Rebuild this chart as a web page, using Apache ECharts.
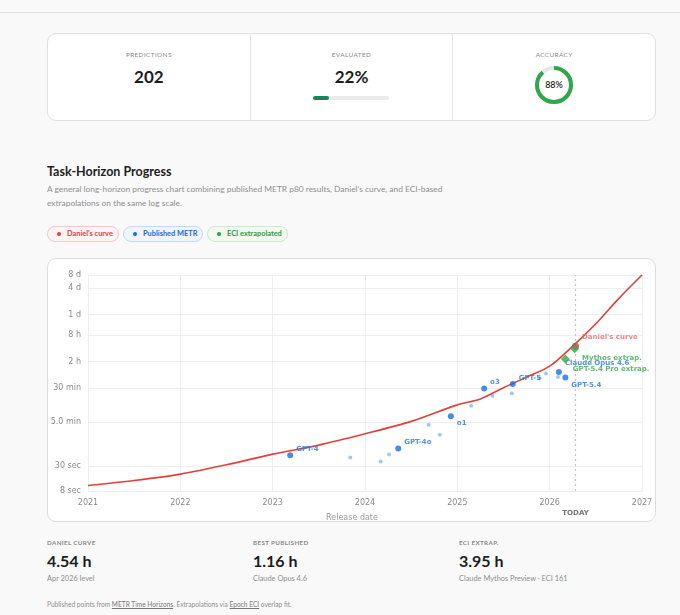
<!DOCTYPE html>
<html><head><meta charset="utf-8">
<script src="https://cdn.jsdelivr.net/npm/echarts@6/dist/echarts.min.js"></script>
<style>
html,body{margin:0;padding:0;}
body{width:680px;height:615px;background:#f9f9f9;font-family:Lato,"Noto Sans",sans-serif;position:relative;overflow:hidden;color:#222;}
.rule{position:absolute;left:0;top:12px;width:680px;height:1px;background:#e3e3e3;}
.stats{position:absolute;left:47px;top:33px;width:609px;height:88px;box-sizing:border-box;border:1px solid #e0e0e0;border-radius:9px;background:#fff;display:flex;}
.cell{flex:1;position:relative;text-align:center;}
.cell+.cell{border-left:1px solid #e6e6e6;}
.lbl{position:absolute;left:0;right:0;top:17px;font-size:6.4px;line-height:8px;letter-spacing:0.4px;color:#888;}
.big{position:absolute;left:0;right:0;top:32px;font-size:17px;font-weight:700;line-height:22px;color:#1d1d1d;}
.bar{position:absolute;left:62px;top:62px;width:76px;height:3.5px;border-radius:2px;background:#ebebeb;}
.bar i{position:absolute;left:0;top:0;height:100%;width:22%;border-radius:2px;background:#16875a;}
.donut{position:absolute;left:81px;top:31px;width:40px;height:40px;}
h2{position:absolute;left:47px;top:163px;margin:0;font-size:12.5px;font-weight:700;line-height:18px;color:#1d1d1d;}
.desc{position:absolute;left:47px;top:182px;width:420px;font-size:8.4px;line-height:14px;color:#8e8e8e;margin:0;}
.pill{position:absolute;top:226px;height:16px;box-sizing:border-box;border-radius:8px;font-size:7.4px;font-weight:700;line-height:14px;padding-left:19px;}
.pill:before{content:"";position:absolute;left:9px;top:5px;width:4px;height:4px;border-radius:50%;background:currentColor;}
.p1{left:47px;width:72px;color:#d9443f;background:#fff3f3;border:1px solid #f3c9c9;}
.p2{left:123px;width:80px;color:#2368cf;background:#eff5ff;border:1px solid #c6d9f6;}
.p3{left:207px;width:81px;color:#2f9a44;background:#f1f9f1;border:1px solid #cde8cf;}
.card{position:absolute;left:47px;top:258px;width:609px;height:264px;box-sizing:border-box;border:1px solid #dedede;border-radius:9px;background:#fff;}
#chart{position:absolute;left:0;top:0;width:607px;height:262px;}
.bs{position:absolute;top:538px;width:200px;}
.bs .l{font-size:6.2px;font-weight:700;letter-spacing:0.4px;color:#888;line-height:10px;}
.bs .v{font-size:16px;font-weight:700;color:#1d1d1d;line-height:20px;margin-top:3px;}
.bs .s{font-size:7.4px;color:#8e8e8e;line-height:10px;margin-top:3px;}
.foot{position:absolute;left:47px;top:599px;font-size:6.6px;color:#8e8e8e;line-height:10px;}
.foot u{text-decoration:underline;color:#777;}
</style></head>
<body>
<div class="rule"></div>
<div class="stats">
  <div class="cell"><div class="lbl">PREDICTIONS</div><div class="big">202</div></div>
  <div class="cell"><div class="lbl">EVALUATED</div><div class="big">22%</div><div class="bar"><i></i></div></div>
  <div class="cell"><div class="lbl">ACCURACY</div>
    <svg class="donut" viewBox="0 0 40 40">
      <circle cx="20" cy="20" r="17" fill="none" stroke="#e6e6e6" stroke-width="4"/>
      <circle cx="20" cy="20" r="17" fill="none" stroke="#2ea84a" stroke-width="4" stroke-dasharray="94.0 200" transform="rotate(-90 20 20)"/>
      <text x="20" y="23.2" text-anchor="middle" font-size="9" font-weight="600" fill="#2a2a2a" font-family="Lato,sans-serif">88%</text>
    </svg>
  </div>
</div>
<h2>Task-Horizon Progress</h2>
<p class="desc">A general long-horizon progress chart combining published METR p80 results, Daniel's curve, and ECI-based extrapolations on the same log scale.</p>
<div class="pill p1">Daniel's curve</div>
<div class="pill p2">Published METR</div>
<div class="pill p3">ECI extrapolated</div>
<div class="card"><div id="chart"></div></div>
<div class="bs" style="left:47px"><div class="l">DANIEL CURVE</div><div class="v">4.54 h</div><div class="s">Apr 2026 level</div></div>
<div class="bs" style="left:253px"><div class="l">BEST PUBLISHED</div><div class="v">1.16 h</div><div class="s">Claude Opus 4.6</div></div>
<div class="bs" style="left:459px"><div class="l">ECI EXTRAP.</div><div class="v">3.95 h</div><div class="s">Claude Mythos Preview · ECI 161</div></div>
<div class="foot">Published points from <u>METR Time Horizons</u>. Extrapolations via <u>Epoch ECI</u> overlap fit.</div>
<script>
// ---- data (x = release date as decimal year, y = p80 horizon in hours) ----
const danielYears = [2021.0, 2021.5, 2022.0, 2022.5, 2023.0, 2023.5, 2024.0, 2024.5, 2025.0, 2025.25, 2025.5, 2025.75, 2026.0, 2026.25, 2026.5, 2026.75, 2027.0];
const danielHours = [0.00297, 0.00386, 0.00541, 0.00881, 0.01545, 0.02483, 0.045, 0.0867, 0.2065, 0.283, 0.51, 0.891, 1.585, 4.54, 14.8, 56.2, 192];

const metrNames = ['GPT-4', 'GPT-4o', 'o1', 'o3', 'GPT-5', 'Claude Opus 4.6', 'GPT-5.4'];
const metrYears = [2023.19, 2024.36, 2024.93, 2025.29, 2025.60, 2026.10, 2026.17];
const metrHours = [0.01466, 0.0207, 0.114, 0.486, 0.622, 1.16, 0.87];

const otherYears = [2023.84, 2024.17, 2024.26, 2024.69, 2024.81, 2025.15, 2025.38, 2025.59, 2025.89, 2025.96, 2026.09];
const otherHours = [0.0129, 0.0105, 0.0151, 0.0725, 0.043, 0.196, 0.336, 0.382, 0.84, 1.07, 0.90];

const eciNames = ['Mythos extrap.', 'GPT-5.4 Pro extrap.'];
const eciYears = [2026.27, 2026.17];
const eciHours = [3.95, 2.3];

const danielMarkerYear = 2026.28;
const danielMarkerHours = 4.54;
const todayYear = 2026.28;

const yTickHours = [8/3600, 30/3600, 5/60, 0.5, 2, 8, 24, 96, 192];
const yTickLabels = ['8 sec', '30 sec', '5.0 min', '30 min', '2 h', '8 h', '1 d', '4 d', '8 d'];

// ---- presentation ----
const labelOffsets = {
  'GPT-4': [0, -6], 'GPT-4o': [0, -6], 'o1': [0, 7], 'o3': [0, -6], 'GPT-5': [0, -6],
  'Claude Opus 4.6': [0, -9], 'GPT-5.4': [0, 8],
  'Mythos extrap.': [0, 9], 'GPT-5.4 Pro extrap.': [0, 10]
};
const FONT = '"DejaVu Sans", sans-serif';
function zip(xs, ys) { return xs.map((x, i) => [x, ys[i]]); }
function named(names, xs, ys) {
  return names.map((n, i) => ({ name: n, value: [xs[i], ys[i]], label: { offset: labelOffsets[n] || [0, 0] } }));
}
function yLabel(v) {
  let best = 0, d = Infinity;
  yTickHours.forEach((t, i) => { const dd = Math.abs(Math.log(t) - Math.log(v)); if (dd < d) { d = dd; best = i; } });
  return yTickLabels[best];
}

const chart = echarts.init(document.getElementById('chart'), null, { renderer: 'canvas' });
chart.setOption({
  animation: false,
  backgroundColor: 'transparent',
  grid: { left: 40, right: 13, top: 16, bottom: 30, containLabel: false, outerBoundsMode: 'none' },
  xAxis: {
    type: 'value', min: 2021, max: 2027, interval: 1,
    name: 'Release date', nameLocation: 'middle', nameGap: 23,
    nameTextStyle: { color: '#9a9a9a', fontSize: 8, fontFamily: FONT, padding: [0, 26, 0, 0] },
    axisLine: { show: false }, axisTick: { show: false },
    axisLabel: { color: '#8a8a8a', fontSize: 8, fontFamily: FONT, margin: 8, hideOverlap: false, formatter: v => String(Math.round(v)) },
    splitLine: { show: true, lineStyle: { color: '#efefef', width: 1 } }
  },
  yAxis: {
    type: 'log', logBase: 10, min: yTickHours[0] * 0.9999, max: yTickHours[yTickHours.length - 1] * 1.0001,
    name: 'p80 horizon (hours, log)', nameLocation: 'middle', nameGap: 32, nameRotate: 90,
    nameTextStyle: { color: '#9a9a9a', fontSize: 8, fontFamily: FONT, padding: [0, 16, 0, 0] },
    axisLine: { show: false },
    axisTick: { show: false, customValues: yTickHours },
    axisLabel: { color: '#8a8a8a', fontSize: 8, fontFamily: FONT, margin: 7, hideOverlap: false, showMinLabel: true, showMaxLabel: true, customValues: yTickHours, formatter: v => yLabel(v) },
    splitLine: { show: true, lineStyle: { color: '#efefef', width: 1 } }
  },
  series: [
    {
      name: "Daniel's curve", type: 'line', data: zip(danielYears, danielHours),
      smooth: 0.3, showSymbol: false, z: 3,
      lineStyle: { color: '#e0413b', width: 1.6 },
      markLine: {
        silent: true, symbol: 'none',
        lineStyle: { color: '#c4c4c4', type: [2, 3], width: 1.2 },
        label: { formatter: 'TODAY', position: 'start', distance: 19, color: '#777', fontSize: 7, fontWeight: 'bold', fontFamily: FONT },
        data: [{ xAxis: todayYear }]
      }
    },
    {
      name: 'METR other', type: 'scatter', data: zip(otherYears, otherHours),
      symbolSize: 4, z: 4, itemStyle: { color: 'rgba(80,145,230,0.65)' }
    },
    {
      name: 'Published METR', type: 'scatter', data: named(metrNames, metrYears, metrHours),
      symbolSize: 6, z: 5, itemStyle: { color: '#1a6fe0' },
      label: { show: true, position: 'right', distance: 3, formatter: '{b}', color: '#2c78d8', fontSize: 7, fontWeight: 'bold', fontFamily: FONT }
    },
    {
      name: "Daniel marker", type: 'scatter',
      data: [{ name: "Daniel's curve", value: [danielMarkerYear, danielMarkerHours], label: { offset: [0, -9] } }],
      symbolSize: 7, z: 6, itemStyle: { color: '#c8453a' },
      label: { show: true, position: 'right', distance: 3, formatter: '{b}', color: '#e26a66', fontSize: 7, fontWeight: 'bold', fontFamily: FONT }
    },
    {
      name: 'ECI extrapolated', type: 'scatter', data: named(eciNames, eciYears, eciHours),
      symbol: 'diamond', symbolSize: 9, z: 7, itemStyle: { color: '#38a94a' },
      label: { show: true, position: 'right', distance: 3, formatter: '{b}', color: '#3aa64c', fontSize: 7, fontWeight: 'bold', fontFamily: FONT }
    }
  ]
});
</script>
</body></html>
